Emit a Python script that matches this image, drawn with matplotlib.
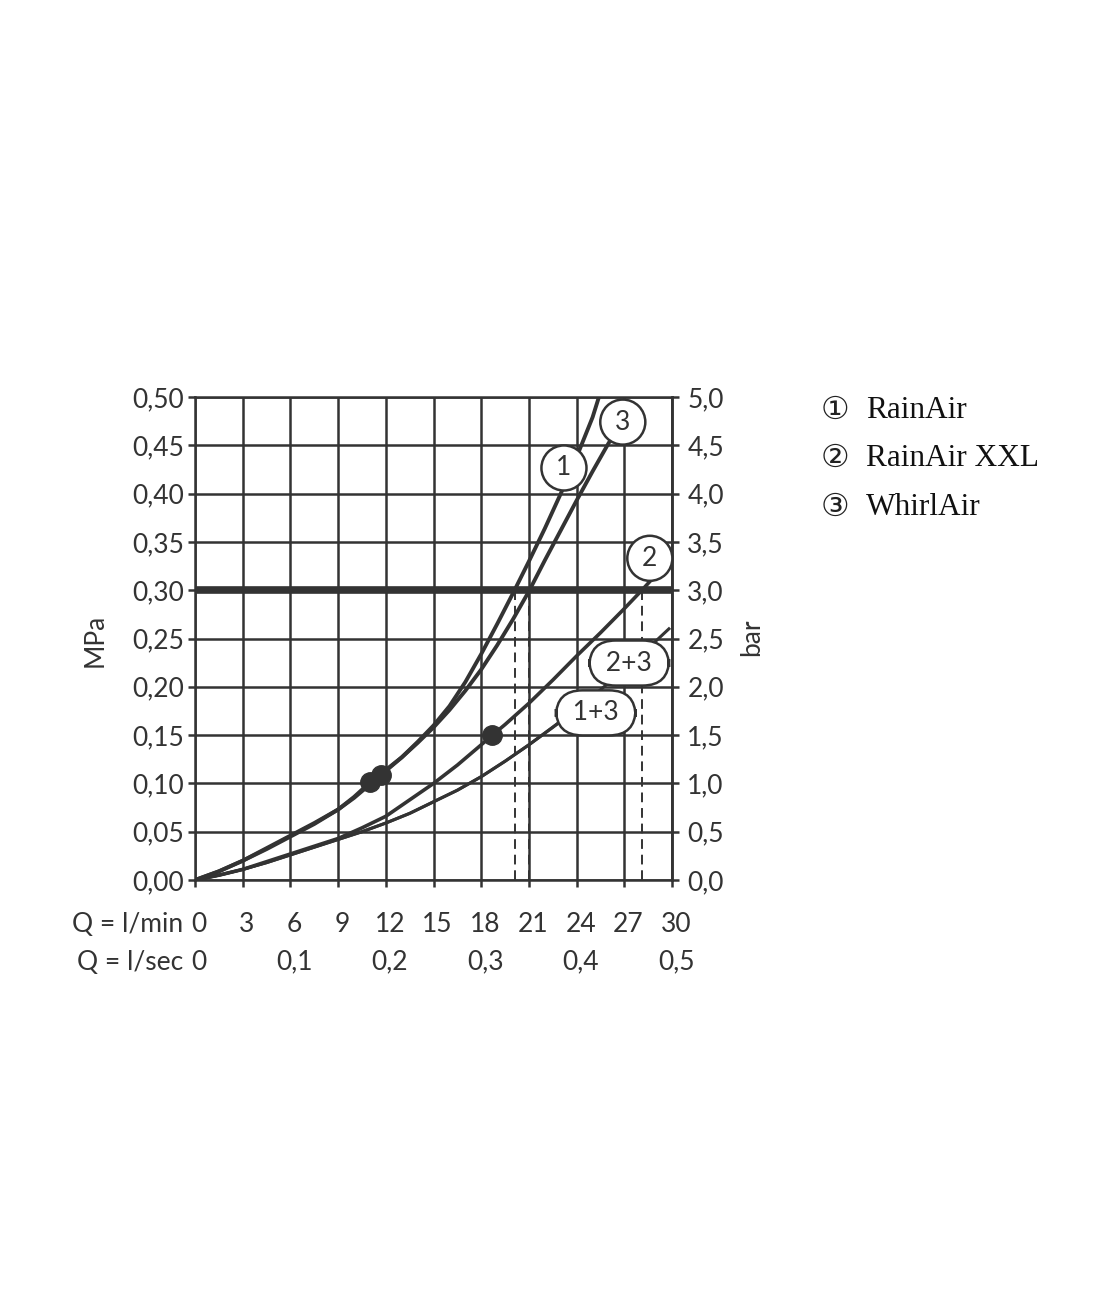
import matplotlib
matplotlib.use("Agg")                      # headless
import matplotlib.pyplot as plt
import matplotlib.transforms as mtransforms

FONT = "Lato"
INK = "#333333"
FS = 19

# axis ticks
flow_min_ticks = [0, 3, 6, 9, 12, 15, 18, 21, 24, 27, 30]
flow_sec_ticks = [0, 0.1, 0.2, 0.3, 0.4, 0.5]
mpa_ticks = [0.00, 0.05, 0.10, 0.15, 0.20, 0.25, 0.30, 0.35, 0.40, 0.45, 0.50]
bar_ticks = [0.0, 0.5, 1.0, 1.5, 2.0, 2.5, 3.0, 3.5, 4.0, 4.5, 5.0]

# pressure curves (flow in l/min, pressure in MPa)
q_rainair = [0, 1.5, 3, 4.5, 6, 7.5, 9, 10, 11, 12, 13, 14, 15, 16, 17, 18,
             19, 20, 21, 22, 23, 24, 25, 25.4]
p_rainair = [0, 0.009, 0.020, 0.032, 0.045, 0.058, 0.073, 0.086, 0.101, 0.114,
             0.127, 0.143, 0.160, 0.180, 0.205, 0.234, 0.265, 0.297, 0.330,
             0.364, 0.400, 0.438, 0.479, 0.500]

q_whirlair = [0, 1.5, 3, 4.5, 6, 7.5, 9, 10, 11, 11.7, 12, 13, 14, 15, 16, 17,
              18, 19, 20, 21, 22, 23, 24, 25, 26, 26.2]
p_whirlair = [0, 0.009, 0.020, 0.033, 0.046, 0.059, 0.073, 0.085, 0.099, 0.109,
              0.113, 0.127, 0.142, 0.158, 0.176, 0.196, 0.218, 0.243, 0.270,
              0.299, 0.331, 0.362, 0.393, 0.423, 0.452, 0.457]

q_xxl = [0, 1.5, 3, 4.5, 6, 7.5, 9, 10.5, 12, 13.5, 15, 16.5, 18, 18.7, 19.5,
         21, 22.5, 24, 25.5, 27, 28.1, 28.6]
p_xxl = [0, 0.005, 0.011, 0.019, 0.027, 0.035, 0.043, 0.054, 0.066, 0.083,
         0.100, 0.119, 0.140, 0.150, 0.161, 0.183, 0.207, 0.232, 0.256, 0.281,
         0.300, 0.309]

q_1_3 = [0, 1.5, 3, 4.5, 6, 7.5, 9, 10.5, 12, 13.5, 15, 16.5, 18, 19.5, 21, 22.8]
p_1_3 = [0, 0.005, 0.011, 0.018, 0.026, 0.034, 0.042, 0.050, 0.059, 0.069,
         0.081, 0.093, 0.107, 0.123, 0.140, 0.162]

q_2_3 = [0, 1.5, 3, 4.5, 6, 7.5, 9, 10.5, 12, 13.5, 15, 16.5, 18, 19.5, 21,
         22.5, 24, 25.5, 27, 28.5, 29.8]
p_2_3 = [0, 0.005, 0.011, 0.018, 0.026, 0.034, 0.042, 0.050, 0.059, 0.069,
         0.081, 0.093, 0.107, 0.123, 0.140, 0.158, 0.177, 0.197, 0.218, 0.240,
         0.260]

# operating points
dot_q = [11.0, 11.7, 18.7]
dot_p = [0.101, 0.109, 0.150]

# 3 bar limit and where the curves cross it
limit_p = 0.30
limit_q = [20.1, 21.0, 28.1]

legend_keys = ["①", "②", "③"]
legend_names = ["RainAir", "RainAir XXL", "WhirlAir"]


def comma(v, fmt):
    return format(v, fmt).replace(".", ",")


fig = plt.figure(figsize=(11.12, 13.08), dpi=100)
ax = fig.add_axes([0.1754, 0.3272, 0.4290, 0.3693])
ax.set_xlim(0, 30)
ax.set_ylim(0, 0.5)

ax.set_xticks(flow_min_ticks)
ax.set_yticks(mpa_ticks, labels=[comma(v, ".2f") for v in mpa_ticks])
ax.set_axisbelow(True)
ax.grid(True, color=INK, lw=1.8)
for s in ax.spines.values():
    s.set_color(INK)
    s.set_linewidth(1.8)
ax.tick_params(axis="both", direction="out", length=5, width=1.8, color=INK,
               labelsize=FS, labelcolor=INK, pad=3)
ax.tick_params(axis="x", labelbottom=False)
for lab in ax.get_yticklabels():
    lab.set_family(FONT)

sec = ax.secondary_yaxis("right", functions=(lambda p: p * 10, lambda b: b / 10))
sec.set_yticks(bar_ticks, labels=[comma(v, ".1f") for v in bar_ticks])
sec.tick_params(direction="out", length=5, width=1.8, color=INK,
                labelsize=FS, labelcolor=INK, pad=6)
sec.spines["right"].set_linewidth(1.8)
sec.spines["right"].set_color(INK)
for lab in sec.get_yticklabels():
    lab.set_family(FONT)

# 3 bar line and the drop lines
ax.axhline(limit_p, color=INK, lw=5.5, zorder=3)
ax.vlines(limit_q, 0, limit_p, colors=INK, lw=1.4, linestyles=(0, (5, 3)), zorder=3)

# curves
ax.plot(q_2_3, p_2_3, color=INK, lw=2.2, zorder=4)
ax.plot(q_1_3, p_1_3, color=INK, lw=2.2, zorder=4)
ax.plot(q_xxl, p_xxl, color=INK, lw=2.6, zorder=4)
ax.plot(q_whirlair, p_whirlair, color=INK, lw=2.8, zorder=4)
ax.plot(q_rainair, p_rainair, color=INK, lw=2.8, zorder=4)
ax.plot(dot_q, dot_p, "o", color=INK, ms=14, zorder=5)

# curve tags
circ = dict(boxstyle="circle,pad=0.38", fc="white", ec=INK, lw=1.8)
pill = dict(boxstyle="round,pad=0.38,rounding_size=1.0", fc="white", ec=INK, lw=1.8)
tags = [("1", 23.2, 0.4265, circ), ("3", 26.9, 0.474, circ), ("2", 28.6, 0.333, circ),
        (" 2+3 ", 27.3, 0.2246, pill), (" 1+3 ", 25.2, 0.173, pill)]
for txt, x, y, box in tags:
    ax.text(x, y, txt, ha="center", va="center", fontsize=FS, family=FONT,
            color=INK, bbox=box, zorder=6)

# two rows of flow labels under the chart
trans = mtransforms.blended_transform_factory(ax.transData, fig.transFigure)
row1, row2 = 1 - 924 / 1308, 1 - 962 / 1308
for q in flow_min_ticks:
    ax.text(q + 0.25, row1, str(q), transform=trans, ha="center", va="center",
            fontsize=FS, family=FONT, color=INK)
for s in flow_sec_ticks:
    ax.text(s * 60 + 0.25, row2, comma(s, "g"), transform=trans, ha="center",
            va="center", fontsize=FS, family=FONT, color=INK)
fig.text(183 / 1112, row1, "Q = l/min", ha="right", va="center", fontsize=FS,
         family=FONT, color=INK)
fig.text(183 / 1112, row2, "Q = l/sec", ha="right", va="center", fontsize=FS,
         family=FONT, color=INK)

fig.text(95 / 1112, 1 - 640 / 1308, "MPa", rotation=90, ha="center", va="center",
         fontsize=FS, family=FONT, color=INK)
fig.text(752 / 1112, 1 - 637 / 1308, "bar", rotation=90, ha="center", va="center",
         fontsize=FS, family=FONT, color=INK)

# legend
for i, (key, name) in enumerate(zip(legend_keys, legend_names)):
    y = 1 - (410 + 48.5 * i) / 1308
    fig.text(835 / 1112, y, key, ha="center", va="center", fontsize=23,
             family=["DejaVu Sans", "Noto Sans CJK SC"], color="#222222")
    fig.text(866 / 1112, y, name, ha="left", va="center", fontsize=22.5,
             family="Liberation Serif", color="#111111")

fig.savefig("out.png", dpi=100)
